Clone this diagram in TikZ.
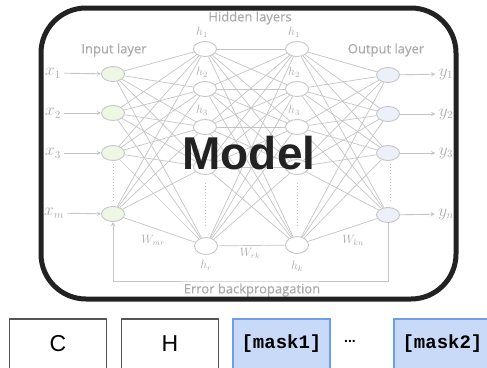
\documentclass[tikz,border=0pt]{standalone}
\usepackage{fontspec}
\setmainfont{Liberation Sans}
\setmonofont{Liberation Mono}
\newfontfamily\netfont[FakeBold=0.4]{Open Sans}
\usetikzlibrary{shapes.geometric}
\definecolor{netgray}{HTML}{C6C6C6}
\definecolor{labgray}{HTML}{ABABAB}
\definecolor{ingreen}{HTML}{EEF6E4}
\definecolor{outblue}{HTML}{EBF0F9}
\definecolor{maskfill}{HTML}{C9DAF8}
\definecolor{maskline}{HTML}{6D9EEB}
\definecolor{boxline}{HTML}{555555}
\definecolor{framecol}{HTML}{222222}
\tikzset{
  neuron/.style={ellipse,draw=netgray,line width=0.9pt,fill=white,
    minimum width=23pt,minimum height=15pt,inner sep=0pt},
  netline/.style={draw=netgray,line width=0.7pt},
  netdots/.style={draw=netgray,line width=1pt,dotted},
  netlabel/.style={text=labgray,font=\netfont\fontsize{13}{14}\selectfont},
  varlabel/.style={text=labgray,font=\fontsize{16}{16}\selectfont},
  hlabel/.style={text=labgray,font=\fontsize{12}{12}\selectfont},
  tokenbox/.style={draw=boxline,line width=1.1pt,minimum width=97pt,
    minimum height=50pt,font=\fontsize{23}{23}\selectfont},
  maskbox/.style={draw=maskline,fill=maskfill,line width=1.3pt,minimum width=97pt,
    minimum height=50pt,font=\ttfamily\bfseries\fontsize{19}{19}\selectfont}
}
\begin{document}
\begin{tikzpicture}[x=1pt,y=-1pt]
\useasboundingbox (0,0) rectangle (487,367);
\clip (0,0) rectangle (487,367);
\fill[white] (0,0) rectangle (487,367);
% network
\node[neuron,fill=ingreen] (i1) at (113,74) {};
\node[neuron,fill=ingreen] (i2) at (113,113) {};
\node[neuron,fill=ingreen] (i3) at (113,153) {};
\node[neuron,fill=ingreen] (im) at (113,214) {};
\node[neuron] (a1) at (205,49) {};
\node[neuron] (a2) at (205,89) {};
\node[neuron] (a3) at (205,127) {};
\node[neuron] (a4) at (205,167) {};
\node[neuron,minimum height=17pt] (ar) at (206,246) {};
\node[neuron] (b1) at (297,49) {};
\node[neuron] (b2) at (297,89) {};
\node[neuron] (b3) at (297,127) {};
\node[neuron] (b4) at (297,167) {};
\node[neuron,minimum height=17pt] (bk) at (297,245) {};
\node[neuron,fill=outblue] (o1) at (388,75) {};
\node[neuron,fill=outblue] (o2) at (388,114) {};
\node[neuron,fill=outblue] (o3) at (388,153) {};
\node[neuron,fill=outblue] (on) at (388,215) {};
\foreach \p in {i1,i2,i3,im}
  \foreach \q in {a1,a2,a3,a4,ar}
    \draw[netline] (\p) -- (\q);
\foreach \p in {a1,a2,a3,a4,ar}
  \foreach \q in {b1,b2,b3,b4,bk}
    \draw[netline] (\p) -- (\q);
\foreach \p in {b1,b2,b3,b4,bk}
  \foreach \q in {o1,o2,o3,on}
    \draw[netline] (\p) -- (\q);
\draw[netdots] (113,164) -- (113,202);
\draw[netdots] (205,183) -- (205,228);
\draw[netdots] (297,183) -- (297,228);
\draw[netdots] (390,164) -- (390,202);
% inputs and outputs
\node[varlabel] (x1) at (53,73) {$x_1$};
\node[varlabel] (x2) at (53,113) {$x_2$};
\node[varlabel] (x3) at (53,153) {$x_3$};
\node[varlabel] (xm) at (54,213) {$x_m$};
\node[varlabel] (y1) at (446,74) {$y_1$};
\node[varlabel] (y2) at (446,114) {$y_2$};
\node[varlabel] (y3) at (446,153) {$y_3$};
\node[varlabel] (yn) at (446,214) {$y_n$};
\foreach \p/\q in {x1/i1,x2/i2,x3/i3,xm/im,o1/y1,o2/y2,o3/y3,on/yn}
  \draw[netline,line width=0.9pt,-stealth] (\p) -- (\q);
\node[hlabel] at (202,32) {$h_1$};
\node[hlabel] at (202,72) {$h_2$};
\node[hlabel] at (202,110) {$h_3$};
\node[hlabel] at (200,151) {$h_4$};
\node[hlabel] at (206,265) {$h_r$};
\node[hlabel] at (294,32) {$h_1$};
\node[hlabel] at (294,72) {$h_2$};
\node[hlabel] at (294,110) {$h_3$};
\node[hlabel] at (297,266) {$h_k$};
\node[hlabel] at (153,240) {$W_{mr}$};
\node[hlabel] at (250,253) {$W_{rk}$};
\node[hlabel] at (353,240) {$W_{kn}$};
\node[netlabel] at (114,50) {Input layer};
\node[netlabel] at (250,18) {Hidden layers};
\node[netlabel] at (386,50) {Output layer};
\node[netlabel] at (252,290) {Error backpropagation};
\coordinate (fb) at (250,281);
\draw[netline,line width=0.9pt,-stealth] (on.south) |- (fb) -| (im.south);
% frame and title
\draw[framecol,line width=5pt,rounded corners=45pt] (41,8) rectangle (456,299);
\node[text=framecol,font=\bfseries\fontsize{46}{46}\selectfont] (model) at (249,153.5) {Model};
% tokens
\node[tokenbox] (c) at (58,344) {C};
\node[tokenbox] (h) at (170,344) {H};
\node[maskbox] (m1) at (281.5,344) {[mask1]};
\node[font=\bfseries\fontsize{14}{14}\selectfont] (dots) at (350,341) {...};
\node[maskbox] (m2) at (442.5,344) {[mask2]};
\end{tikzpicture}
\end{document}
